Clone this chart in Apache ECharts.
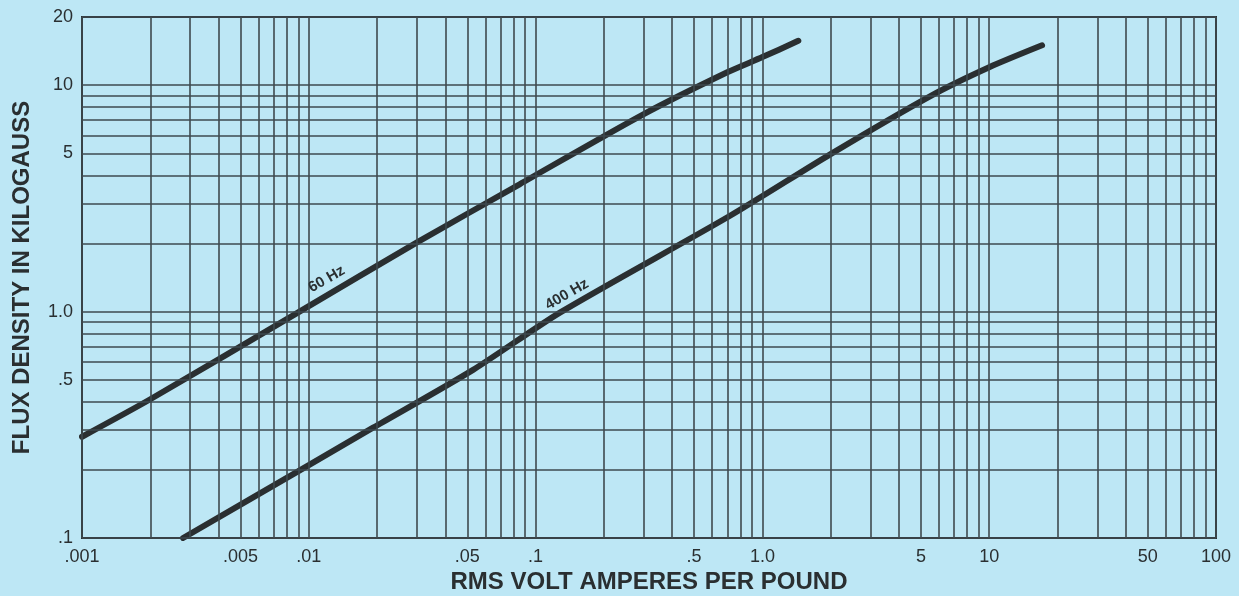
<!DOCTYPE html>
<html>
<head>
<meta charset="utf-8">
<script src="https://cdn.jsdelivr.net/npm/echarts@6/dist/echarts.min.js"></script>
<style>
  html, body { margin: 0; padding: 0; background: #bde7f5; }
  #chart { width: 1239px; height: 596px; }
</style>
</head>
<body>
<div id="chart"></div>
<script>
// Log-log paper: gridlines at every 1..9 multiple of each decade
const xDecades = [0.001, 0.01, 0.1, 1, 10];
const yDecades = [0.1, 1];
const gridSteps = [1, 2, 3, 4, 5, 6, 7, 8, 9];
const xExtraGrid = [100];
const yExtraGrid = [10, 20];

// Tick labels
const xTickValues = [0.001, 0.005, 0.01, 0.05, 0.1, 0.5, 1, 5, 10, 50, 100];
const xTickLabels = ['.001', '.005', '.01', '.05', '.1', '.5', '1.0', '5', '10', '50', '100'];
const yTickValues = [0.1, 0.5, 1, 5, 10, 20];
const yTickLabels = ['.1', '.5', '1.0', '5', '10', '20'];

// Curves: RMS volt-amperes per pound vs flux density (kilogauss)
const va60 = [0.001, 0.002, 0.0091, 0.03, 0.085, 0.3, 0.7, 1.0, 1.44];
const b60 = [0.28, 0.41, 1.0, 2.02, 3.65, 7.45, 11.4, 13.3, 15.7];
const va400 = [0.00279, 0.01, 0.0192, 0.053, 0.128, 0.72, 1.99, 5.48, 10, 17.1];
const b400 = [0.1, 0.21, 0.307, 0.553, 0.99, 2.65, 4.95, 8.93, 12.0, 15.0];

// Curve captions, placed in data units
const label60 = { text: '60 Hz', va: 0.0120, b: 1.39 };
const label400 = { text: '400 Hz', va: 0.1375, b: 1.19 };

const INK = '#2a2f31';
const GRID_INK = '#3e4a4f';
const FONT = '"Liberation Sans", Arial, sans-serif';

function clean(v) { return Number(v.toPrecision(6)); }

const xGrid = [];
xDecades.forEach(d => gridSteps.forEach(s => xGrid.push(clean(d * s))));
xExtraGrid.forEach(v => xGrid.push(v));
const yGrid = [];
yDecades.forEach(d => gridSteps.forEach(s => yGrid.push(clean(d * s))));
yExtraGrid.forEach(v => yGrid.push(v));

function labelFor(values, labels, v) {
  const i = values.findIndex(t => Math.abs(t - v) / t < 1e-6);
  return i >= 0 ? labels[i] : null;
}

const tickText = { color: INK, fontSize: 18, fontFamily: FONT };

const gridLineData = [];
xGrid.forEach(v => {
  const txt = labelFor(xTickValues, xTickLabels, v);
  gridLineData.push({
    xAxis: v,
    label: txt ? Object.assign({ show: true, position: 'start', formatter: txt, distance: 10 }, tickText)
               : { show: false }
  });
});
yGrid.forEach(v => {
  const txt = labelFor(yTickValues, yTickLabels, v);
  gridLineData.push({
    yAxis: v,
    label: txt ? Object.assign({ show: true, position: 'start', formatter: txt, distance: 9 }, tickText)
               : { show: false }
  });
});

function zip(xs, ys) { return xs.map((x, i) => [x, ys[i]]); }

function captionPoint(c) {
  return {
    symbol: 'circle',
    symbolSize: 0,
    precision: 6,
    itemStyle: { color: 'rgba(0,0,0,0)' },
    label: { show: true, position: 'inside', rotate: 30, color: INK,
             fontSize: 15, fontFamily: FONT, fontWeight: 'bold' },
    data: [{ coord: [c.va, c.b], value: c.text,
             label: { formatter: c.text } }]
  };
}

const chart = echarts.init(document.getElementById('chart'), null, { renderer: 'canvas' });
chart.setOption({
  animation: false,
  backgroundColor: '#bde7f5',
  grid: { left: 82, right: 23, top: 17, bottom: 58, show: true,
          outerBoundsMode: 'none', containLabel: false,
          borderColor: INK, borderWidth: 2, backgroundColor: 'transparent' },
  xAxis: {
    type: 'log', logBase: 10, min: 0.001, max: 100,
    axisLine: { show: false }, axisTick: { show: false },
    axisLabel: { show: false }, splitLine: { show: false },
    name: 'RMS VOLT AMPERES PER POUND', nameLocation: 'middle', nameGap: 32,
    nameTextStyle: { color: INK, fontSize: 24, fontWeight: 'bold', fontFamily: FONT }
  },
  yAxis: {
    type: 'log', logBase: 10, min: 0.1, max: 20,
    axisLine: { show: false }, axisTick: { show: false },
    axisLabel: { show: false }, splitLine: { show: false },
    name: 'FLUX DENSITY IN KILOGAUSS', nameLocation: 'middle', nameGap: 48,
    nameTextStyle: { color: INK, fontSize: 24, fontWeight: 'bold', fontFamily: FONT }
  },
  series: [
    {
      type: 'line', name: 'grid', data: [], z: 1, silent: true,
      markLine: {
        silent: true, symbol: ['none', 'none'], animation: false, precision: 6,
        lineStyle: { color: GRID_INK, width: 1.6, type: 'solid', opacity: 1 },
        emphasis: { disabled: true },
        data: gridLineData
      }
    },
    {
      type: 'line', name: '60 Hz', data: zip(va60, b60), z: 3,
      smooth: 0.25, showSymbol: false, symbol: 'none',
      lineStyle: { color: INK, width: 6, cap: 'round', join: 'round' },
      markPoint: captionPoint(label60)
    },
    {
      type: 'line', name: '400 Hz', data: zip(va400, b400), z: 3,
      smooth: 0.25, showSymbol: false, symbol: 'none',
      lineStyle: { color: INK, width: 6, cap: 'round', join: 'round' },
      markPoint: captionPoint(label400)
    }
  ]
});
</script>
</body>
</html>
